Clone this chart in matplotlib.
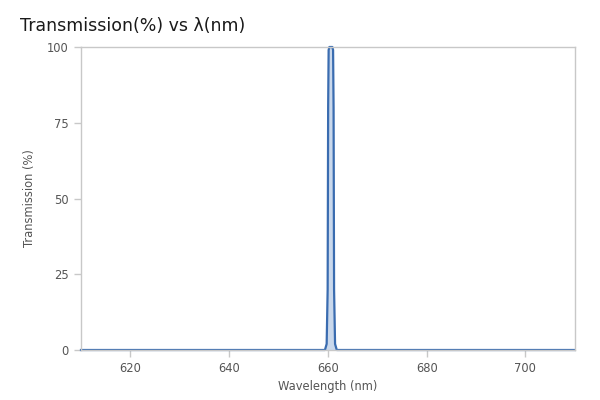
import matplotlib
matplotlib.use("Agg")
import matplotlib.pyplot as plt

wavelength = [610.0, 659.4, 659.75, 659.95, 660.05, 660.15, 660.3, 660.9, 661.05, 661.15, 661.25, 661.45, 661.8, 710.0]
transmission = [0.0, 0.0, 2.0, 20.0, 80.0, 99.0, 100.0, 100.0, 99.0, 80.0, 20.0, 2.0, 0.0, 0.0]
x_ticks = [620, 640, 660, 680, 700]
y_ticks = [0, 25, 50, 75, 100]

line_color = "#3a6cb0"
fill_color = "#c9d8ec"
spine_color = "#c8c8c8"
text_color = "#555555"

fig = plt.figure(figsize=(6, 4), dpi=100)
ax = fig.add_axes([0.135, 0.125, 0.823, 0.7575])
ax.fill_between(wavelength, transmission, 0, color=fill_color, linewidth=0)
ax.plot(wavelength, transmission, color=line_color, linewidth=1.6, solid_joinstyle="round", clip_on=False)
ax.set_xlim(610, 710)
ax.set_ylim(0, 100)
ax.set_xticks(x_ticks)
ax.set_yticks(y_ticks)
for s in ax.spines.values():
    s.set_color(spine_color)
    s.set_linewidth(1.0)
ax.tick_params(axis="both", colors=spine_color, labelcolor=text_color, labelsize=8.3, length=5, width=1.0, pad=4)
ax.set_xlabel("Wavelength (nm)", fontsize=8.3, color=text_color, labelpad=3)
ax.set_ylabel("Transmission (%)", fontsize=8.3, color=text_color, labelpad=8)
fig.text(0.033, 0.935, "Transmission(%) vs λ(nm)", fontsize=12.5, color="#1a1a1a", ha="left", va="center")
fig.savefig("out.png", dpi=100, facecolor="white")
